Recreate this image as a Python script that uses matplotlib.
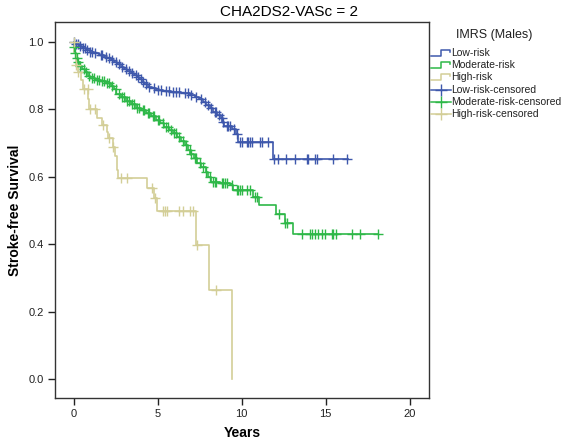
import numpy as np
import matplotlib
matplotlib.use("Agg")
import matplotlib.pyplot as plt
from matplotlib.lines import Line2D

plt.rcParams['font.family'] = ['Liberation Sans', 'DejaVu Sans']

# ---------------- data ----------------
series_names = ["Low-risk", "Moderate-risk", "High-risk"]
colors = ["#3E58AC", "#2EB848", "#D3CE97"]

low_event_t = [0.10, 0.30, 0.50, 0.75, 0.95, 1.20, 1.50, 1.80, 2.00, 2.20, 2.40, 2.60,
               2.80, 3.00, 3.20, 3.40, 3.60, 3.75, 3.90, 4.05, 4.20, 4.40, 4.65, 4.90,
               5.30, 5.80, 6.40, 6.90, 7.20, 7.45, 7.70, 7.90, 8.10, 8.30, 8.55, 8.75,
               8.85, 8.95, 9.45, 9.65, 9.80, 11.88]
low_event_s = [0.993, 0.988, 0.982, 0.975, 0.970, 0.965, 0.960, 0.955, 0.950, 0.945, 0.940, 0.933,
               0.926, 0.920, 0.914, 0.908, 0.902, 0.895, 0.888, 0.881, 0.874, 0.867, 0.862, 0.857,
               0.853, 0.850, 0.847, 0.842, 0.836, 0.829, 0.820, 0.812, 0.803, 0.793, 0.784, 0.775,
               0.762, 0.750, 0.742, 0.725, 0.704, 0.652]
low_end = 16.35
low_censor_t = [0.05, 0.15, 0.25, 0.40, 0.55, 0.65, 0.80, 1.00, 1.10, 1.30, 1.60, 1.70, 1.90,
                2.10, 2.30, 2.50, 2.70, 2.90, 3.10, 3.30, 3.50, 3.70, 3.85, 4.00, 4.15, 4.30,
                4.50, 4.80, 5.00, 5.20, 5.50, 5.70, 5.90, 6.10, 6.30, 6.60, 6.80, 7.00, 7.30,
                7.60, 7.80, 8.00, 8.20, 8.40, 8.50, 8.65, 8.80, 8.90, 9.10, 9.20, 9.30, 9.55,
                9.75, 9.90, 10.00, 10.30, 10.39, 10.49, 10.60, 11.09, 11.19, 11.58, 11.92,
                12.18, 12.64, 13.17, 13.87, 13.96, 14.36, 14.50, 15.45, 16.25]

mod_event_t = [0.02, 0.06, 0.12, 0.22, 0.35, 0.50, 0.68, 0.85, 1.00, 1.30, 1.60, 1.95, 2.20,
               2.40, 2.55, 2.80, 3.10, 3.40, 3.70, 4.00, 4.30, 4.60, 4.90, 5.15, 5.40, 5.65,
               5.90, 6.15, 6.40, 6.60, 6.80, 6.95, 7.15, 7.35, 7.60, 7.85, 8.00, 8.15, 8.70,
               9.30, 9.50, 10.69, 11.05, 12.04, 12.58, 13.03]
mod_event_s = [0.985, 0.965, 0.950, 0.940, 0.928, 0.918, 0.909, 0.899, 0.891, 0.887, 0.883, 0.877,
               0.870, 0.860, 0.845, 0.836, 0.825, 0.814, 0.804, 0.797, 0.789, 0.779, 0.769, 0.758,
               0.748, 0.739, 0.729, 0.718, 0.706, 0.695, 0.680, 0.668, 0.655, 0.642, 0.628, 0.613,
               0.598, 0.585, 0.580, 0.575, 0.561, 0.541, 0.516, 0.489, 0.462, 0.429]
mod_end = 18.13
mod_censor_t = [0.04, 0.10, 0.18, 0.28, 0.40, 0.60, 0.75, 0.90, 1.10, 1.20, 1.40, 1.50, 1.70,
                1.80, 2.00, 2.10, 2.30, 2.50, 2.70, 2.90, 3.00, 3.20, 3.30, 3.50, 3.60, 3.80,
                3.90, 4.10, 4.20, 4.40, 4.50, 4.70, 4.80, 5.00, 5.10, 5.30, 5.50, 5.60, 5.80,
                6.00, 6.10, 6.30, 6.50, 6.70, 6.90, 7.00, 7.20, 7.30, 7.50, 7.70, 7.90, 8.10,
                8.30, 8.40, 8.50, 8.80, 8.90, 9.00, 9.10, 9.40, 9.70, 9.80, 9.90, 10.00, 10.30,
                10.49, 10.80, 10.90, 12.20, 12.60, 12.72, 13.57, 14.07, 14.17, 14.36, 14.56,
                14.76, 14.96, 15.36, 15.45, 15.61, 16.55, 17.04, 18.13]

high_event_t = [0.05, 0.14, 0.27, 0.45, 0.55, 0.87, 0.93, 1.40, 1.70, 1.96, 2.06, 2.36, 2.46,
                2.56, 2.65, 4.35, 4.78, 4.94, 7.28, 8.07, 9.44]
high_event_s = [0.965, 0.930, 0.910, 0.885, 0.860, 0.830, 0.800, 0.775, 0.754, 0.733, 0.714,
                0.689, 0.660, 0.620, 0.597, 0.566, 0.536, 0.500, 0.398, 0.265, 0.0]
high_end = 9.44
high_censor_t = [0.02, 0.14, 0.27, 0.61, 0.83, 0.97, 1.27, 1.76, 2.12, 2.36, 2.80, 3.15, 4.64,
                 4.84, 5.32, 5.43, 5.54, 6.29, 6.52, 6.92, 7.08, 7.32, 8.47]

event_t = [low_event_t, mod_event_t, high_event_t]
event_s = [low_event_s, mod_event_s, high_event_s]
end_t = [low_end, mod_end, high_end]
censor_t = [low_censor_t, mod_censor_t, high_censor_t]

x_ticks = [0, 5, 10, 15, 20]
y_ticks = [0.0, 0.2, 0.4, 0.6, 0.8, 1.0]

# ---------------- figure ----------------
W, H = 569, 446
fig = plt.figure(figsize=(W / 100, H / 100), dpi=100)
ax = fig.add_axes([55 / W, 1 - 398 / H, (429 - 55) / W, (398 - 22) / H])

def surv_at(t, et, es):
    idx = np.searchsorted(np.asarray(et), t, side='right')
    vals = np.concatenate([[1.0], np.asarray(es)])
    return vals[idx]

for et, es, end, ct, c in zip(event_t, event_s, end_t, censor_t, colors):
    xs = np.concatenate([[0.0], et, [end]])
    ys = np.concatenate([[1.0], es, [es[-1]]])
    ax.step(xs, ys, where='post', color=c, lw=1.2, zorder=3)
    ct = np.asarray(ct)
    ax.plot(ct, surv_at(ct, et, es), linestyle='none', marker='+', ms=7, mew=1.0,
            color=c, zorder=4)

ax.set_xlim(-1.11, 21.15)
ax.set_ylim(-0.055, 1.058)
ax.set_xticks(x_ticks)
ax.set_yticks(y_ticks)
ax.set_yticklabels([f"{v:.1f}" for v in y_ticks])
ax.tick_params(axis='both', direction='out', length=5, width=1, labelsize=8,
               colors='#222222', pad=3)
for sp in ax.spines.values():
    sp.set_color('#333333')
    sp.set_linewidth(1.0)

ax.set_xlabel("Years", fontsize=10, fontweight='bold', labelpad=5)
ax.set_ylabel("Stroke-free Survival", fontsize=10, fontweight='bold', labelpad=5)
fig.text(0.508, 1 - 12 / H, "CHA2DS2-VASc = 2", ha='center', va='center', fontsize=11)

# ---------------- legend (drawn in figure coordinates) ----------------
def fx(px):
    return px / W

def fy(py):
    return 1 - py / H

fig.text(fx(494), fy(35), "IMRS (Males)", ha='center', va='center', fontsize=9,
         color='#222222')
row_y = [52.5, 64.8, 77.2, 89.6, 102.0, 114.4]
labels = [f"{n}" for n in series_names] + [f"{n}-censored" for n in series_names]
for i, lab in enumerate(labels):
    y = row_y[i]
    c = colors[i % 3]
    if i < 3:
        xs = [fx(431), fx(441), fx(441), fx(450), fx(450)]
        ys = [fy(y + 3), fy(y + 3), fy(y - 3), fy(y - 3), fy(y - 1)]
        fig.add_artist(Line2D(xs, ys, color=c, lw=1.1, transform=fig.transFigure))
    else:
        fig.add_artist(Line2D([fx(431), fx(451)], [fy(y), fy(y)], color=c, lw=1.1,
                              transform=fig.transFigure))
        fig.add_artist(Line2D([fx(440.5)], [fy(y)], color=c, marker='+', ms=9, mew=1.0,
                              linestyle='none', transform=fig.transFigure))
    fig.text(fx(451), fy(y), lab, ha='left', va='center', fontsize=7.5, color='#222222')

fig.savefig("out.png", dpi=100)
